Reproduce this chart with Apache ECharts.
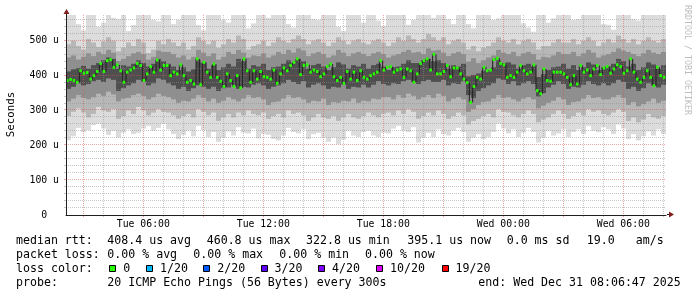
<!DOCTYPE html>
<html><head><meta charset="utf-8">
<script src="https://cdn.jsdelivr.net/npm/echarts@6/dist/echarts.min.js"></script>
<style>html,body{margin:0;padding:0;background:#fff}#c{width:697px;height:297px}</style>
</head><body><div id="c"></div>
<script>
// ---- time axis (hours since Tue 00:00) ----
const X_START = 2.135, X_END = 32.135;
const minorHourTicks = [4,5,7,8,10,11,13,14,16,17,19,20,22,23,25,26,28,29,31,32];
const majorHourTicks = [3,6,9,12,15,18,21,24,27,30];
const labelHourTicks = [6,12,18,24,30];
const xTickLabels = ['Tue 06:00','Tue 12:00','Tue 18:00','Wed 00:00','Wed 06:00'];

// ---- y axis (microseconds) ----
const Y_MAX = 574;
const yMinorTicks = [20,40,60,80,120,140,160,180,220,240,260,280,320,340,360,380,420,440,460,480,520,540,560];
const yMajorTicks = [100,200,300,400,500];
const yLabelTicks = [0,100,200,300,400,500];
const yTickLabels = ['0  ','100 u','200 u','300 u','400 u','500 u'];

// ---- median rtt, one value per 10 minutes (us) ----
const medianA = [386,389,386,381,414,407,409,390,400,412,435,412,443,446,424,431,414,381,410,416,422,435,429,386,405,426,410,445,416,429];
const medianB = [429,400,410,405,431,400,381,386,376,448,374,438,410,395,433,395,384,369,405,386,369,400,365,448,414,381,414,390,412,397];
const medianC = [395,390,416,378,405,422,414,429,438,448,403,429,431,410,416,412,397,405,426,433,397,386,395,378,412,390,410,386,414,395];
const medianD = [390,400,405,410,443,416,424,426,410,416,419,395,419,414,381,405,435,443,448,416,461,405,405,412,429,397,422,422,405,390];
const medianE = [380,323,369,395,390,424,414,416,446,450,435,431,395,400,395,410,429,414,405,410,431,357,348,419,386,384,410,410,410,405];
const medianF = [395,374,400,376,429,410,416,400,419,429,403,422,426,407,419,431,426,407,414,448,410,390,381,395,414,395,371,424,400,395];
const MED_STEP = 1/6;

// ---- smoke (ping distribution), one column per 15 minutes (us) ----
const SMOKE_STEP = 0.25;
const smokeMax = [574,574,548,530,574,574,540,552,574,566,562,574,528,545,574,574,574,560,556,574,
  574,548,560,574,574,574,545,530,574,574,574,560,552,574,574,574,536,550,574,574,
  566,574,574,574,548,538,574,574,574,562,560,574,574,574,540,528,574,574,574,552,
  574,574,558,542,574,574,574,574,546,560,574,574,574,566,574,574,562,548,574,574,
  548,536,574,574,574,560,564,574,574,574,574,550,538,526,574,574,552,564,574,574,
  574,560,562,574,574,574,574,548,546,532,574,574,574,562,558,574,574,574,574,574];
const smokeHi1 = [490,500,485,475,505,495,482,498,510,500,470,480,495,485,505,495,465,475,500,490,
  505,495,485,495,475,485,510,500,490,500,480,490,505,495,515,505,475,485,490,500,
  485,495,510,500,495,505,515,505,490,500,505,495,485,495,510,500,490,500,505,495,
  490,500,505,495,485,495,510,500,515,505,495,505,520,510,500,510,490,500,505,495,
  475,485,470,480,485,495,510,500,495,505,490,500,505,495,475,485,485,495,505,495,
  495,505,490,500,510,500,485,495,505,495,515,505,495,505,490,500,510,500,495,505];
const smokeHi2 = [452,458,446,454,464,456,468,462,474,466,442,448,456,464,468,462,446,454,472,468,
  468,462,452,458,446,454,474,466,456,464,446,454,468,462,474,466,452,458,456,464,
  452,458,468,462,474,466,478,472,456,464,468,462,452,458,474,466,456,464,468,462,
  456,464,468,462,452,458,462,468,474,466,468,462,478,472,474,466,456,464,468,462,
  440,450,436,444,452,458,474,466,462,468,456,464,468,462,446,454,452,458,468,462,
  462,468,456,464,474,466,452,458,462,468,478,472,468,462,456,464,474,466,462,468];
const smokeHi3 = [412,418,422,428,420,430,436,444,452,448,420,430,426,434,444,436,426,434,448,442,
  434,426,416,424,412,418,444,436,420,430,416,424,434,426,448,442,420,430,426,434,
  416,424,426,434,444,436,448,442,420,430,434,426,416,424,438,432,420,430,426,434,
  420,430,434,426,416,424,426,434,444,436,436,444,448,442,444,436,420,430,426,434,
  398,402,406,414,416,424,444,436,438,432,420,430,434,426,396,404,416,424,426,434,
  420,430,416,424,438,432,416,424,426,434,448,442,426,434,416,424,438,432,420,430];
const smokeLo3 = [362,368,378,372,376,384,388,382,392,388,356,364,372,378,388,382,372,378,392,388,
  378,372,362,368,356,364,372,368,362,368,356,364,366,374,362,368,366,374,378,372,
  362,368,372,378,388,382,376,384,366,374,378,372,362,368,366,374,362,368,366,374,
  366,374,384,376,372,378,376,384,388,382,376,384,388,382,382,388,372,378,376,384,
  344,336,356,364,372,378,392,388,376,384,372,378,384,376,340,350,366,374,384,376,
  362,368,366,374,384,376,372,378,372,378,388,382,362,368,356,364,378,372,366,374];
const smokeLo2 = [326,334,344,336,332,338,348,342,354,346,326,334,336,344,348,342,332,338,348,342,
  338,332,322,328,326,334,344,336,326,334,322,328,338,332,326,334,344,336,338,332,
  316,324,326,334,344,336,338,332,322,328,326,334,316,324,322,328,326,334,322,328,
  326,334,332,338,338,332,344,336,348,342,332,338,344,336,348,342,326,334,338,332,
  296,304,316,324,326,334,344,336,338,332,326,334,338,332,306,314,322,328,338,332,
  316,324,326,334,344,336,338,332,332,338,344,336,316,324,312,318,326,334,322,328];
const smokeLo1 = [284,296,306,294,280,290,310,300,296,304,276,284,300,290,310,300,286,294,304,296,
  294,286,276,284,290,280,304,296,286,294,270,280,290,280,294,286,300,290,286,294,
  276,284,290,280,300,290,294,286,270,280,290,280,276,284,270,280,290,280,276,284,
  294,286,280,290,294,286,300,290,304,296,276,284,294,286,300,290,276,284,294,286,
  260,270,276,284,290,280,304,296,294,286,280,290,300,290,266,274,280,290,300,290,
  276,284,294,286,304,296,300,290,286,294,304,296,270,280,266,274,290,280,276,284];
const smokeMin = [214,226,250,238,244,258,262,248,230,242,222,236,246,232,236,248,256,242,250,262,
  246,232,218,230,242,226,256,244,224,238,210,222,240,228,252,236,234,248,220,232,
  230,218,214,228,250,238,234,246,218,232,236,222,210,222,204,216,242,228,224,238,
  242,228,224,236,234,248,256,242,238,252,208,222,236,224,246,232,228,242,250,238,
  210,222,232,218,224,238,262,248,234,246,224,236,250,238,208,222,242,228,234,246,
  224,238,246,232,256,242,238,252,246,232,260,248,218,232,214,226,240,228,246,232];

// ---- legend ----
const statsRow1 = ['median rtt:','408.4 us avg','460.8 us max','322.8 us min','395.1 us now','0.0 ms sd','19.0','am/s'];
const statsRow2 = ['packet loss:','0.00 % avg','0.00 % max','0.00 % min','0.00 % now'];
const lossLabels = ['0','1/20','2/20','3/20','4/20','10/20','19/20'];
const lossColors = ['#26ff00','#00b8ff','#0059ff','#5e00ff','#7e00ff','#dd00ff','#ff0000'];
const probeText = '20 ICMP Echo Pings (56 Bytes) every 300s';
const endText = 'end: Wed Dec 31 08:06:47 2025';

const median = medianA.concat(medianB, medianC, medianD, medianE, medianF);
const medData = median.map((v, i) => [X_START + i * MED_STEP, X_START + (i + 1) * MED_STEP, i > 0 ? median[i - 1] : v, v]);
const smokeData = smokeMin.map((v, j) => [X_START + j * SMOKE_STEP, X_START + (j + 1) * SMOKE_STEP,
  smokeMin[j], smokeLo1[j], smokeLo2[j], smokeLo3[j], smokeHi3[j], smokeHi2[j], smokeHi1[j], smokeMax[j]]);

const MONO = 'DejaVu Sans Mono';
const GRID_C = 'rgba(143,143,143,0.5)';
const MGRID_C = 'rgba(222,79,79,0.5)';
const SMOKE_SHADES = ['#dcdcdc', '#b7b7b7', '#8f8f8f', '#4f4f4f'];

function renderSmoke(params, api) {
  const x0 = api.value(0), x1 = api.value(1);
  const children = [];
  for (let k = 0; k < 4; k++) {
    const top = api.coord([x0, api.value(9 - k)]);
    const bot = api.coord([x1, api.value(2 + k)]);
    children.push({ type: 'rect', shape: { x: top[0], y: top[1], width: bot[0] - top[0], height: bot[1] - top[1] },
      style: { fill: SMOKE_SHADES[k] } });
  }
  return { type: 'group', children };
}
function renderMedian(params, api) {
  const a = api.coord([api.value(0), api.value(3)]);
  const b = api.coord([api.value(1), api.value(3)]);
  const p = api.coord([api.value(0), api.value(2)]);
  return { type: 'group', children: [
    { type: 'line', shape: { x1: a[0], y1: p[1], x2: a[0], y2: a[1] }, style: { stroke: '#202020', lineWidth: 1 } },
    { type: 'rect', shape: { x: a[0], y: a[1] - 1.5, width: b[0] - a[0] - 0.8, height: 3 }, style: { fill: lossColors[0] } }
  ] };
}
function vGrid(color) {
  return function (params, api) {
    const cs = params.coordSys;
    const x = Math.round(api.coord([api.value(0), 0])[0]) + 0.5;
    return { type: 'group', children: [
      { type: 'line', shape: { x1: x, y1: cs.y, x2: x, y2: cs.y + cs.height }, style: { stroke: color, lineWidth: 1, lineDash: [1, 1] } },
      { type: 'line', shape: { x1: x, y1: cs.y + cs.height, x2: x, y2: cs.y + cs.height + 2 }, style: { stroke: color, lineWidth: 1 } }
    ] };
  };
}
function hGrid(color) {
  return function (params, api) {
    const cs = params.coordSys;
    const y = Math.round(api.coord([X_START, api.value(1)])[1]) - 0.5;
    return { type: 'group', children: [
      { type: 'line', shape: { x1: cs.x, y1: y, x2: cs.x + cs.width, y2: y }, style: { stroke: color, lineWidth: 1, lineDash: [1, 1] } },
      { type: 'line', shape: { x1: cs.x - 2, y1: y, x2: cs.x, y2: y }, style: { stroke: color, lineWidth: 1 } }
    ] };
  };
}

const graphics = [];
function txt(x, y, s) {
  graphics.push({ type: 'text', x: x, y: y, style: { text: s, font: '11.6px "' + MONO + '"', fill: '#000', verticalAlign: 'middle' } });
}
const r1x = [16, 107.3, 206.7, 306, 407.3, 506.7, 586.7, 635.7];
statsRow1.forEach((s, i) => txt(r1x[i], 241, s));
const r2x = [16, 107.3, 193.3, 279.3, 365];
statsRow2.forEach((s, i) => txt(r2x[i], 255, s));
txt(16, 269, 'loss color:');
const sqx = [109.3, 146, 203.3, 260.5, 318, 376, 441.5];
lossLabels.forEach((s, i) => {
  graphics.push({ type: 'rect', shape: { x: Math.round(sqx[i]) + 0.5, y: 265.5, width: 6, height: 6 },
    style: { fill: lossColors[i], stroke: '#000', lineWidth: 1 } });
  txt(sqx[i] + 14, 269, s);
});
txt(16, 283, 'probe:');
txt(107.3, 283, probeText);
txt(478.3, 283, endText);
graphics.push({ type: 'text', x: 11, y: 114.5, rotation: Math.PI / 2,
  style: { text: 'Seconds', font: '10.8px "' + MONO + '"', fill: '#000', align: 'center', verticalAlign: 'middle' } });
graphics.push({ type: 'text', x: 687.5, y: 5, rotation: -Math.PI / 2,
  style: { text: 'RRDTOOL / TOBI OETIKER', font: '8.3px "' + MONO + '"', fill: '#bdbdbd', align: 'left', verticalAlign: 'middle' } });
graphics.push({ type: 'line', shape: { x1: 66.5, y1: 15, x2: 66.5, y2: 12 }, style: { stroke: '#1f1f1f', lineWidth: 1 } });
graphics.push({ type: 'line', shape: { x1: 667, y1: 214.5, x2: 670, y2: 214.5 }, style: { stroke: '#1f1f1f', lineWidth: 1 } });
graphics.push({ type: 'polygon', shape: { points: [[63.5, 14], [69.5, 14], [66.5, 9]] }, style: { fill: '#801f1f' } });
graphics.push({ type: 'polygon', shape: { points: [[669, 211.5], [669, 217.5], [674, 214.5]] }, style: { fill: '#801f1f' } });

const option = {
  animation: false,
  backgroundColor: '#fff',
  grid: { left: 66, right: 31, top: 15, bottom: 82, containLabel: false },
  xAxis: {
    type: 'value', min: X_START, max: X_END, position: 'bottom', z: 6,
    axisLine: { show: true, onZero: false, lineStyle: { color: '#1f1f1f', width: 1 } },
    axisTick: { show: false },
    axisLabel: { show: true, customValues: labelHourTicks, margin: 4,
      formatter: v => xTickLabels[labelHourTicks.indexOf(Math.round(v))] || '',
      fontFamily: MONO, fontSize: 9.8, color: '#000' },
    splitLine: { show: false }
  },
  yAxis: {
    type: 'value', min: 0, max: Y_MAX, position: 'left', z: 6,
    axisLine: { show: true, onZero: false, lineStyle: { color: '#1f1f1f', width: 1 } },
    axisTick: { show: false },
    axisLabel: { show: true, customValues: yLabelTicks, margin: 7,
      formatter: v => yTickLabels[yLabelTicks.indexOf(Math.round(v))] || '',
      fontFamily: MONO, fontSize: 9.8, color: '#000' },
    splitLine: { show: false }
  },
  series: [
    { type: 'custom', name: 'smoke', z: 1, clip: true,
      renderItem: renderSmoke, encode: { x: [0, 1], y: [2, 3, 4, 5, 6, 7, 8, 9] }, data: smokeData },
    { type: 'custom', name: 'vminor', z: 3, clip: false, renderItem: vGrid(GRID_C), encode: { x: 0, y: 1 },
      data: minorHourTicks.map(t => [t, 0]) },
    { type: 'custom', name: 'hminor', z: 3, clip: false, renderItem: hGrid(GRID_C), encode: { x: 0, y: 1 },
      data: yMinorTicks.map(v => [X_START, v]) },
    { type: 'custom', name: 'vmajor', z: 4, clip: false, renderItem: vGrid(MGRID_C), encode: { x: 0, y: 1 },
      data: majorHourTicks.map(t => [t, 0]) },
    { type: 'custom', name: 'hmajor', z: 4, clip: false, renderItem: hGrid(MGRID_C), encode: { x: 0, y: 1 },
      data: yMajorTicks.map(v => [X_START, v]) },
    { type: 'custom', name: 'median', z: 5, clip: true,
      renderItem: renderMedian, encode: { x: [0, 1], y: [2, 3] }, data: medData }
  ],
  graphic: graphics
};
const chart = echarts.init(document.getElementById('c'), null, { renderer: 'canvas' });
chart.setOption(option);
</script></body></html>
